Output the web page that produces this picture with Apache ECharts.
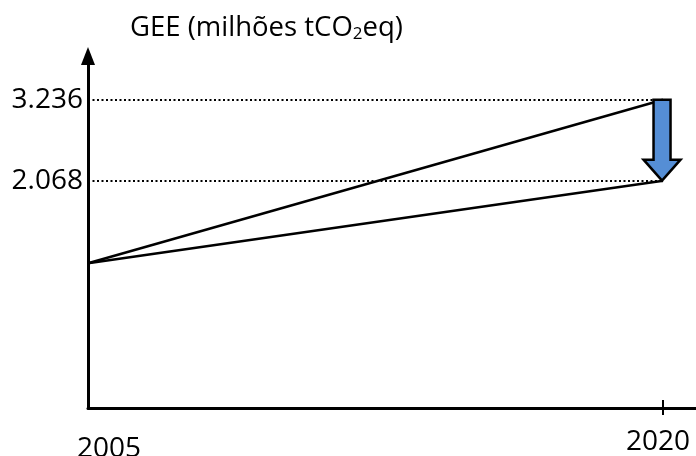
<!DOCTYPE html>
<html>
<head>
<meta charset="utf-8">
<script src="https://cdn.jsdelivr.net/npm/echarts@6/dist/echarts.min.js"></script>
<style>
  html, body { margin: 0; padding: 0; background: #fff; }
  #main { width: 696px; height: 456px; }
</style>
</head>
<body>
<div id="main"></div>
<script>
// valores do esquema (GEE, milhões tCO2eq)
const years = [2005, 2020];
const tendencial = [0.877, 3.236];
const meta = [0.877, 2.068];
const yTicks = [2.068, 3.236];
const xTicks = [2005, 2020];

const font = '"Open Sans", sans-serif';

const myChart = echarts.init(document.getElementById('main'));

const toPairs = (vals) => years.map((y, i) => [y, vals[i]]);

myChart.setOption({
  animation: false,
  backgroundColor: '#fff',
  title: {
    left: 125,
    top: 9,
    text: '{t|GEE (milhões tCO}{s|2}{t|eq)}',
    textStyle: {
      fontWeight: 'normal',
      rich: {
        t: { fontFamily: font, fontSize: 27.5, fontWeight: 'normal', color: '#000' },
        s: { fontFamily: font, fontSize: 17, fontWeight: 'normal', color: '#000', padding: [12, 0, 0, 0] }
      }
    }
  },
  grid: { left: 88, right: 0, top: 56, bottom: 48, outerBoundsMode: 'none', containLabel: false },
  xAxis: [
    {
      type: 'value',
      min: 2005,
      max: 2020.86,
      splitLine: { show: false },
      axisLine: { onZero: false, lineStyle: { color: '#000', width: 3 } },
      axisTick: { show: true, length: 7, customValues: [2020], lineStyle: { color: '#000', width: 2 } },
      axisLabel: {
        customValues: xTicks,
        margin: 20,
        color: '#000',
        fontFamily: font,
        fontSize: 28,
        formatter: (v) => (v === 2005 ? '{a|2005}' : '{b|2020}'),
        rich: {
          a: { fontFamily: font, fontSize: 28, color: '#000', padding: [7, 0, 0, 42] },
          b: { fontFamily: font, fontSize: 28, color: '#000', padding: [0, 10, 0, 0] }
        }
      }
    },
    {
      type: 'value',
      min: 2005,
      max: 2020.86,
      position: 'bottom',
      splitLine: { show: false },
      axisLine: { show: false, onZero: false },
      axisLabel: { show: false },
      axisTick: { show: true, inside: true, length: 8, customValues: [2020], lineStyle: { color: '#000', width: 2 } }
    }
  ],
  yAxis: {
    type: 'value',
    min: -1.21,
    max: 3.866,
    splitLine: { show: false },
    axisLine: {
      show: true,
      onZero: false,
      symbol: ['none', 'triangle'],
      symbolSize: [14, 18],
      lineStyle: { color: '#000', width: 3 }
    },
    axisTick: { show: false },
    axisLabel: {
      customValues: yTicks,
      margin: 5,
      color: '#000',
      fontFamily: font,
      fontSize: 28,
      padding: [17, 0, 0, 0],
      formatter: (v) => v.toFixed(3)
    }
  },
  series: [
    {
      type: 'line',
      data: toPairs(tendencial),
      symbol: 'none',
      lineStyle: { color: '#000', width: 2.5 },
      markLine: {
        silent: true,
        symbol: 'none',
        label: { show: false },
        lineStyle: { color: '#000', width: 2, type: [2, 2.5] },
        data: yTicks.map((v) => [{ coord: [years[0], v] }, { coord: [years[1], v] }])
      }
    },
    {
      type: 'line',
      data: toPairs(meta),
      symbol: 'none',
      lineStyle: { color: '#000', width: 2.5 }
    },
    {
      type: 'custom',
      data: [[years[1], tendencial[1], meta[1]]],
      z: 5,
      renderItem: (params, api) => {
        const top = api.coord([api.value(0), api.value(1)]);
        const tip = api.coord([api.value(0), api.value(2)]);
        const cx = tip[0] - 1;
        const shaft = 8.5, head = 18.5, headH = 21;
        const pts = [
          [cx - shaft, top[1]],
          [cx + shaft, top[1]],
          [cx + shaft, tip[1] - headH],
          [cx + head, tip[1] - headH],
          [cx, tip[1]],
          [cx - head, tip[1] - headH],
          [cx - shaft, tip[1] - headH]
        ];
        return {
          type: 'polygon',
          shape: { points: pts },
          style: { fill: '#558ED5', stroke: '#000', lineWidth: 2.5, lineJoin: 'miter' }
        };
      }
    }
  ]
});
</script>
</body>
</html>
